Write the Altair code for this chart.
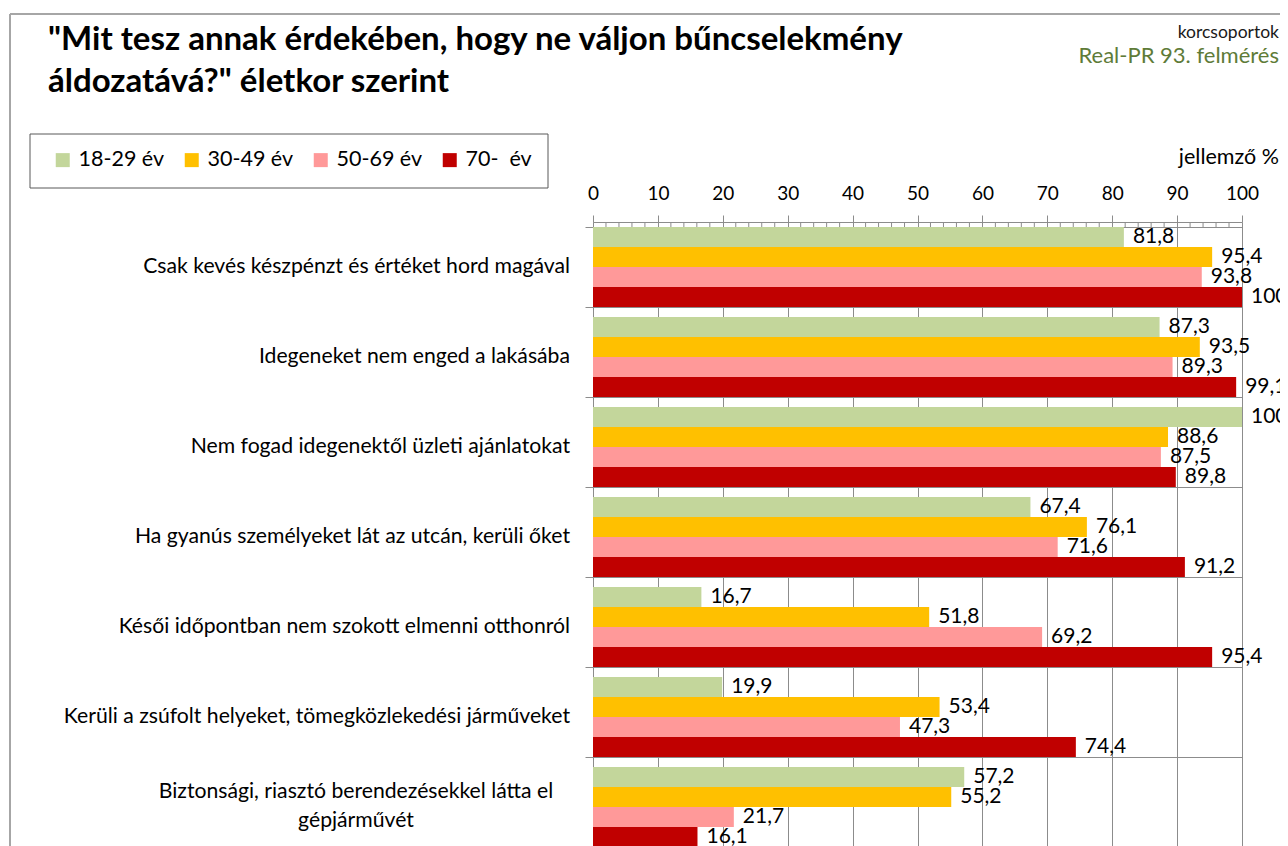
import altair as alt
import pandas as pd

# ---------------- data ----------------
categories = [
    "Csak kevés készpénzt és értéket hord magával",
    "Idegeneket nem enged a lakásába",
    "Nem fogad idegenektől üzleti ajánlatokat",
    "Ha gyanús személyeket lát az utcán, kerüli őket",
    "Késői időpontban nem szokott elmenni otthonról",
    "Kerüli a zsúfolt helyeket, tömegközlekedési járműveket",
    "Biztonsági, riasztó berendezésekkel látta el gépjárművét",
]
category_display = [
    "Csak kevés készpénzt és értéket hord magával",
    "Idegeneket nem enged a lakásába",
    "Nem fogad idegenektől üzleti ajánlatokat",
    "Ha gyanús személyeket lát az utcán, kerüli őket",
    "Késői időpontban nem szokott elmenni otthonról",
    "Kerüli a zsúfolt helyeket, tömegközlekedési járműveket",
    "Biztonsági, riasztó berendezésekkel látta el\ngépjárművét",
]
groups = ["18-29 év", "30-49 év", "50-69 év", "70-\u00a0\u00a0év"]
colors = ["#C3D69B", "#FFC000", "#FF9999", "#C00000"]

v_18_29 = [81.8, 87.3, 100, 67.4, 16.7, 19.9, 57.2]
v_30_49 = [95.4, 93.5, 88.6, 76.1, 51.8, 53.4, 55.2]
v_50_69 = [93.8, 89.3, 87.5, 71.6, 69.2, 47.3, 21.7]
v_70 = [100, 99.1, 89.8, 91.2, 95.4, 74.4, 16.1]

x_ticks = [0, 10, 20, 30, 40, 50, 60, 70, 80, 90, 100]
minor_ticks = [2, 4, 6, 8, 12, 14, 16, 18, 22, 24, 26, 28, 32, 34, 36, 38,
               42, 44, 46, 48, 52, 54, 56, 58, 62, 64, 66, 68, 72, 74, 76, 78,
               82, 84, 86, 88, 92, 94, 96, 98]

title_text = "\"Mit tesz annak érdekében, hogy ne váljon bűncselekmény\náldozatává?\" életkor szerint"
note_top = "korcsoportok"
note_source = "Real-PR 93. felmérés"
x_unit = "jellemző %"


def fmt(v):
    if float(v).is_integer():
        return str(int(v))
    return f"{v:.1f}".replace(".", ",")


rows = []
for series, g in zip([v_18_29, v_30_49, v_50_69, v_70], groups):
    for c, v in zip(categories, series):
        rows.append({"category": c, "group": g, "value": v, "label": fmt(v)})
df = pd.DataFrame(rows)

df_minor = pd.DataFrame({"value": minor_ticks})
df_cat = pd.DataFrame({"category": categories, "label": category_display})
df_cat_single = df_cat[~df_cat["label"].str.contains("\n")]
df_cat_multi = df_cat[df_cat["label"].str.contains("\n")]
one = pd.DataFrame({"k": [0]})

# ---------------- style ----------------
FONT = "Lato"
GRID = "#8C8C8C"
W, H = 649, 630

x_enc = alt.X(
    "value:Q",
    scale=alt.Scale(domain=[0, 100], nice=False),
    axis=alt.Axis(
        orient="top", values=x_ticks, grid=True, gridColor=GRID, gridWidth=1,
        tickColor=GRID, tickSize=7, domainColor=GRID, labelFont=FONT,
        labelFontSize=19, labelColor="#000000", labelPadding=12,
        labelFlush=False, title=None,
    ),
)
y_enc = alt.Y(
    "category:N",
    sort=categories,
    scale=alt.Scale(paddingInner=0.111, paddingOuter=0.0556),
    axis=alt.Axis(
        labels=False, ticks=True, tickSize=8, tickColor=GRID, tickBand="extent",
        grid=True, gridColor=GRID, domain=True, domainColor=GRID, title=None,
    ),
)
yoff_enc = alt.YOffset("group:N", sort=groups,
                       scale=alt.Scale(paddingInner=0, paddingOuter=0))
color_enc = alt.Color(
    "group:N",
    sort=groups,
    scale=alt.Scale(domain=groups, range=colors),
    legend=alt.Legend(
        orient="none", legendX=-541, legendY=-73, direction="horizontal",
        columns=4, title=None, symbolType="square", symbolSize=196,
        symbolStrokeWidth=0, labelFont=FONT, labelFontSize=21.5,
        labelColor="#000000", labelOffset=5, columnPadding=16, padding=0,
    ),
)

bars = alt.Chart(df).mark_bar().encode(
    x=x_enc, y=y_enc, yOffset=yoff_enc, color=color_enc
)
values = alt.Chart(df).mark_text(
    align="left", baseline="middle", dx=9, font=FONT, fontSize=21, color="#000000"
).encode(x=x_enc, y=y_enc, yOffset=yoff_enc, text="label:N")

minor = alt.Chart(df_minor).mark_rule(color=GRID, strokeWidth=1).encode(
    x=x_enc, y=alt.value(0), y2=alt.value(5)
)

cat_single = alt.Chart(df_cat_single).mark_text(
    align="right", baseline="middle", font=FONT, fontSize=21.2, color="#000000"
).encode(x=alt.value(-23), y=y_enc, text="label:N")
cat_multi = alt.Chart(df_cat_multi).mark_text(
    align="center", baseline="middle", font=FONT, fontSize=21.2, color="#000000",
    lineBreak="\n", lineHeight=29, dy=-14.5,
).encode(x=alt.value(-237), y=y_enc, text="label:N")

title = alt.Chart(one).mark_text(
    align="left", baseline="alphabetic", font=FONT, fontSize=33, fontWeight="bold",
    color="#000000", lineBreak="\n", lineHeight=42, text=title_text,
).encode(x=alt.value(-545), y=alt.value(-172))
top_note = alt.Chart(one).mark_text(
    align="right", baseline="middle", font=FONT, fontSize=17.5, color="#1A1A1A",
    text=note_top,
).encode(x=alt.value(686), y=alt.value(-189))
source_note = alt.Chart(one).mark_text(
    align="right", baseline="middle", font=FONT, fontSize=22, color="#5E7B38",
    text=note_source,
).encode(x=alt.value(686), y=alt.value(-166))
unit_note = alt.Chart(one).mark_text(
    align="right", baseline="middle", font=FONT, fontSize=21.5, color="#000000",
    text=x_unit,
).encode(x=alt.value(686), y=alt.value(-64))

legend_box = alt.Chart(one).mark_rect(
    fillOpacity=0, stroke="#595959", strokeWidth=1
).encode(x=alt.value(-563), x2=alt.value(-45), y=alt.value(-88), y2=alt.value(-34))

frame_top = alt.Chart(one).mark_rule(color="#A6A6A6", strokeWidth=2).encode(
    x=alt.value(-583), x2=alt.value(700), y=alt.value(-208)
)
frame_left = alt.Chart(one).mark_rule(color="#A6A6A6", strokeWidth=2).encode(
    x=alt.value(-583), y=alt.value(-208), y2=alt.value(660)
)

chart = alt.layer(
    frame_top, frame_left, legend_box, bars, minor, values, cat_single, cat_multi,
    title, top_note, source_note, unit_note,
).properties(
    width=W,
    height=H,
    autosize=alt.AutoSizeParams(type="none"),
    padding={"left": 585, "top": 214, "right": 38, "bottom": 0},
    background="#FFFFFF",
).configure_view(strokeWidth=0)

chart.save("out.html", embed_options={"renderer": "svg", "actions": False})
